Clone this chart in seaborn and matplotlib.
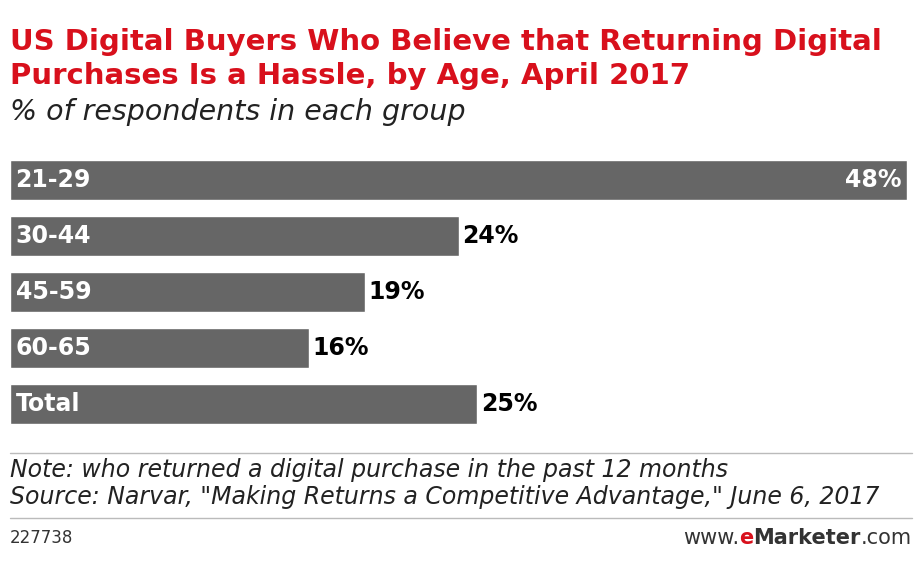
import matplotlib
matplotlib.use("Agg")
import matplotlib.pyplot as plt
import seaborn as sns
import pandas as pd

categories = ["21-29", "30-44", "45-59", "60-65", "Total"]
values = [48, 24, 19, 16, 25]
value_labels = ["48%", "24%", "19%", "16%", "25%"]

sns.set_style("white")
plt.rcParams['font.family'] = ['DejaVu Sans']

fig = plt.figure(figsize=(9.22, 5.61), dpi=100)
ax = fig.add_axes([10/922, 1-432/561, 897/922, 280/561])
df = pd.DataFrame({"cat": categories, "val": values})
sns.barplot(data=df, x="val", y="cat", orient="h", color="#666666", width=0.73, ax=ax, saturation=1)
ax.set_xlim(0, 48)
ax.set_ylim(4.5, -0.5)
ax.axis("off")
for i, (c, v, l) in enumerate(zip(categories, values, value_labels)):
    ax.text(0.3, i, c, color="white", fontsize=17, fontweight="bold", va="center", ha="left")
    if v == max(values):
        ax.text(v - 0.3, i, l, color="white", fontsize=17, fontweight="bold", va="center", ha="right")
    else:
        ax.text(v + 0.2, i, l, color="black", fontsize=17, fontweight="bold", va="center", ha="left")

red = "#d8101c"
fig.text(10/922, 1-42/561, "US Digital Buyers Who Believe that Returning Digital", color=red, fontsize=21, fontweight="bold", va="center")
fig.text(10/922, 1-76/561, "Purchases Is a Hassle, by Age, April 2017", color=red, fontsize=21, fontweight="bold", va="center")
fig.text(10/922, 1-112/561, "% of respondents in each group", color="#222222", fontsize=20.5, style="italic", va="center")
fig.add_artist(plt.Line2D([10/922, 912/922], [1-453/561, 1-453/561], color="#bbbbbb", lw=1))
fig.add_artist(plt.Line2D([10/922, 912/922], [1-518/561, 1-518/561], color="#bbbbbb", lw=1))
fig.text(10/922, 1-470/561, "Note: who returned a digital purchase in the past 12 months", fontsize=17, style="italic", va="center", color="#222222")
fig.text(10/922, 1-497/561, 'Source: Narvar, "Making Returns a Competitive Advantage," June 6, 2017', fontsize=17, style="italic", va="center", color="#222222")
fig.text(10/922, 1-538/561, "227738", fontsize=12, va="center", color="#333333")
t1 = fig.text(912/922, 1-538/561, ".com", fontsize=15, va="center", ha="right", color="#333333")
fig.canvas.draw()
r = fig.canvas.get_renderer()
x = t1.get_window_extent(r).x0
t2 = fig.text(x/922, 1-538/561, "Marketer", fontsize=15, va="center", ha="right", color="#333333", fontweight="bold")
x = t2.get_window_extent(r).x0
t3 = fig.text(x/922, 1-538/561, "e", fontsize=15, va="center", ha="right", color=red, fontweight="bold")
x = t3.get_window_extent(r).x0
fig.text(x/922, 1-538/561, "www.", fontsize=15, va="center", ha="right", color="#333333")
fig.savefig("out.png", dpi=100)
